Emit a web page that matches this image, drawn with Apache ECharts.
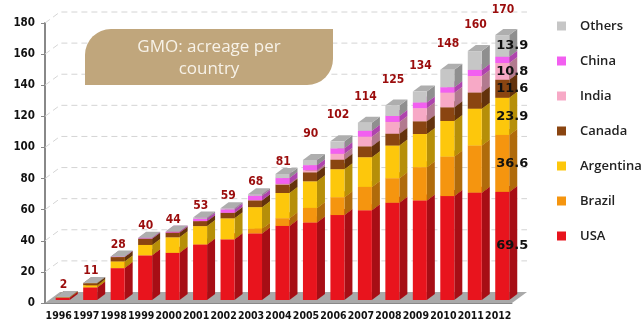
<!DOCTYPE html>
<html>
<head>
<meta charset="utf-8">
<script src="https://cdn.jsdelivr.net/npm/echarts@6/dist/echarts.min.js"></script>
<style>
  html, body { margin: 0; padding: 0; background: #fff; }
  #chart { width: 642px; height: 324px; }
</style>
</head>
<body>
<div id="chart"></div>
<script>
// 数据
var years = ['1996','1997','1998','1999','2000','2001','2002','2003','2004','2005','2006','2007','2008','2009','2010','2011','2012'];
var usa       = [1.5, 8.1, 20.5, 28.7, 30.3, 35.7, 39.0, 42.8, 47.6, 49.8, 54.6, 57.7, 62.5, 64.0, 66.8, 69.0, 69.5];
var brazil    = [0, 0, 0, 0, 0, 0, 0, 3.0, 5.0, 9.4, 11.5, 15.0, 15.8, 21.4, 25.4, 30.3, 36.6];
var argentina = [0.1, 1.4, 4.3, 6.7, 10.0, 11.8, 13.5, 13.9, 16.2, 17.1, 18.0, 19.1, 21.0, 21.3, 22.9, 23.7, 23.9];
var canada    = [0.1, 1.3, 2.8, 4.0, 3.0, 3.2, 3.5, 4.4, 5.4, 5.8, 6.1, 7.0, 7.6, 8.2, 8.8, 10.4, 11.6];
var india     = [0, 0, 0, 0, 0, 0, 0.1, 0.1, 0.5, 1.3, 3.8, 6.2, 7.6, 8.4, 9.4, 10.6, 10.8];
var china     = [0, 0, 0.1, 0.3, 0.5, 1.5, 2.1, 2.8, 3.7, 3.3, 3.5, 3.8, 3.8, 3.7, 3.5, 3.9, 4.0];
var others    = [0.3, 0.2, 0.3, 0.3, 0.2, 0.8, 0.8, 1.0, 2.6, 3.3, 4.5, 5.2, 6.7, 7.0, 11.2, 12.1, 13.9];
var totals    = [2, 11, 28, 40, 44, 53, 59, 68, 81, 90, 102, 114, 125, 134, 148, 160, 170];
var yTicks    = [0, 20, 40, 60, 80, 100, 120, 140, 160, 180];

var countries = [
  { name: 'USA',       data: usa,       color: '#e8141d', label: true },
  { name: 'Brazil',    data: brazil,    color: '#f5950f', label: true },
  { name: 'Argentina', data: argentina, color: '#fdc70c', label: true },
  { name: 'Canada',    data: canada,    color: '#8a4511', label: true },
  { name: 'India',     data: india,     color: '#f7a9c6', label: true },
  { name: 'China',     data: china,     color: '#f25ff0', label: false },
  { name: 'Others',    data: others,    color: '#c6c6c6', label: true }
];

var chart = echarts.init(document.getElementById('chart'));

// 3D 偏移
var DX = 8, DY = 6, SHIFT = 3;

// 颜色变暗
function darken(hex, k) {
  var n = parseInt(hex.slice(1), 16);
  var r = Math.round(((n >> 16) & 255) * k);
  var g = Math.round(((n >> 8) & 255) * k);
  var b = Math.round((n & 255) * k);
  return 'rgb(' + r + ',' + g + ',' + b + ')';
}

function barRender(country) {
  return function (params, api) {
    var i = api.value(0), base = api.value(1), v = api.value(2);
    if (!v) return;
    var bw = api.size([1, 0])[0];
    var c = api.coord([i, 0])[0];
    var x0 = c - bw * 0.11, x1 = c + bw * 0.4;
    var yb = api.coord([i, base])[1] - SHIFT;
    var yt = api.coord([i, base + v])[1] - SHIFT;
    var col = country.color;
    var side = darken(col, 0.72);
    var top = darken(col, 0.88);
    var kids = [
      { type: 'polygon', shape: { points: [[x1, yt], [x1 + DX, yt - DY], [x1 + DX, yb - DY], [x1, yb]] }, style: { fill: side } },
      { type: 'polygon', shape: { points: [[x0, yt], [x1, yt], [x1 + DX, yt - DY], [x0 + DX, yt - DY]] }, style: { fill: top } },
      { type: 'rect', shape: { x: x0, y: yt, width: x1 - x0, height: yb - yt }, style: { fill: col } }
    ];
    if (i === years.length - 1 && country.label) {
      kids.push({
        type: 'text',
        style: {
          text: v.toFixed(1), x: x0 + 1, y: (yt + yb) / 2,
          verticalAlign: 'middle', align: 'left',
          font: 'bold 13px "DejaVu Sans"', fill: '#111'
        },
        z2: 10
      });
    }
    return { type: 'group', children: kids };
  };
}

var series = [];

// 底面
series.push({
  type: 'custom', name: 'floor', silent: true, z: 1,
  data: [[0, 0]],
  renderItem: function (params, api) {
    var cs = params.coordSys;
    var y0 = cs.y + cs.height;
    return {
      type: 'polygon',
      shape: { points: [[cs.x, y0], [cs.x + cs.width, y0], [cs.x + cs.width + 15, y0 - 11], [cs.x + 15, y0 - 11]] },
      style: { fill: '#a9a9a9' }
    };
  }
});

// 背景网格线
series.push({
  type: 'custom', name: 'wall', silent: true, z: 1,
  data: yTicks.slice(1).map(function (t) { return [0, t]; }),
  renderItem: function (params, api) {
    var cs = params.coordSys;
    var y = api.coord([0, api.value(1)])[1];
    return {
      type: 'polyline',
      shape: { points: [[cs.x, y], [cs.x + 15, y - 11], [cs.x + cs.width + 15, y - 11]] },
      style: { stroke: '#d4d4d4', lineWidth: 1, lineDash: [6, 4], fill: null }
    };
  }
});

var bases = years.map(function () { return 0; });
countries.forEach(function (ct) {
  var d = ct.data.map(function (v, i) {
    var item = [i, bases[i], v];
    bases[i] += v;
    return item;
  });
  series.push({
    type: 'custom', name: ct.name, z: 3,
    itemStyle: { color: ct.color },
    encode: { x: 0, y: [1, 2] },
    data: d,
    renderItem: barRender(ct)
  });
});

// 总数标签
series.push({
  type: 'custom', name: 'totals', silent: true, z: 5,
  data: totals.map(function (t, i) { return [i, t]; }),
  renderItem: function (params, api) {
    var i = api.value(0);
    var bw = api.size([1, 0])[0];
    var c = api.coord([i, 0])[0];
    var y = api.coord([i, api.value(1)])[1] - SHIFT;
    var off = i < 9 ? 12 : 26;
    return {
      type: 'text',
      style: {
        text: String(api.value(1)), x: c + bw * 0.17, y: y - off,
        align: 'center', verticalAlign: 'middle',
        font: 'bold 12px "DejaVu Sans Condensed", "DejaVu Sans"', fill: '#9b0c0c'
      }
    };
  }
});

var option = {
  animation: false,
  grid: { left: 45, right: 130, top: 23, bottom: 21, containLabel: false },
  legend: {
    orient: 'vertical', left: 552, top: 14,
    itemWidth: 9, itemHeight: 9, itemGap: 21, icon: 'rect',
    data: ['Others', 'China', 'India', 'Canada', 'Argentina', 'Brazil', 'USA'],
    textStyle: { fontFamily: 'Open Sans', fontSize: 13, fontWeight: 600, color: '#222', lineHeight: 14, padding: [0, 0, 0, 9] }
  },
  graphic: [
    {
      type: 'rect', z: 10,
      shape: { x: 85, y: 29, width: 248, height: 56, r: [26, 0, 26, 0] },
      style: { fill: '#c0a67c' }
    },
    {
      type: 'text', z: 11,
      style: {
        text: 'GMO: acreage per\ncountry', x: 209, y: 58,
        align: 'center', verticalAlign: 'middle', lineHeight: 22,
        font: '17px "Open Sans"', fill: '#f7f2e8'
      }
    }
  ],
  xAxis: {
    type: 'category', data: years,
    axisLine: { lineStyle: { color: '#888', width: 1 } },
    axisTick: { length: 4, lineStyle: { color: '#888' } },
    axisLabel: { interval: 0, margin: 8, color: '#111', fontWeight: 'bold', fontSize: 10.5, fontFamily: 'DejaVu Sans Condensed' }
  },
  yAxis: {
    type: 'value', min: 0, max: 180, interval: 20,
    axisLine: { show: true, lineStyle: { color: '#888', width: 2 } },
    axisTick: { show: true, length: 4, lineStyle: { color: '#888' } },
    splitLine: { show: false },
    axisLabel: { margin: 10, color: '#111', fontWeight: 'bold', fontSize: 11.5, fontFamily: 'DejaVu Sans Condensed' }
  },
  series: series
};

chart.setOption(option);
</script>
</body>
</html>
